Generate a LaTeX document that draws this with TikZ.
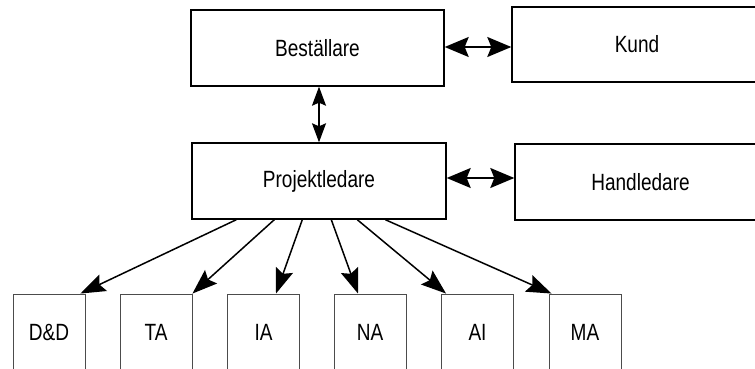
\documentclass[tikz,border=0pt]{standalone}
\usepackage{fontspec}
\setmainfont{Liberation Sans}[FakeStretch=0.81]
\usetikzlibrary{arrows.meta,calc}
\begin{document}
\begin{tikzpicture}[x=1pt,y=-1pt,
  topbox/.style={draw=black,line width=1.4pt,rectangle,inner sep=0pt,
     font=\fontsize{23.5}{26}\selectfont},
  subbox/.style={draw=black!70,line width=0.9pt,rectangle,inner sep=0pt,
     minimum width=72pt,minimum height=76pt,font=\fontsize{23.5}{26}\selectfont},
  biarrow/.style={line width=1.5pt,{Stealth[length=24pt,width=20pt,inset=4pt]}-{Stealth[length=24pt,width=20pt,inset=4pt]}},
  vbiarrow/.style={line width=1.5pt,{Stealth[length=19pt,width=14pt,inset=3pt]}-{Stealth[length=19pt,width=14pt,inset=3pt]}},
  darrow/.style={line width=1.5pt,-{Stealth[length=25pt,width=18pt,inset=4pt]}}]
\useasboundingbox (0,0) rectangle (755,369);
\node[topbox,minimum width=253pt,minimum height=76pt] (bes) at (317.5,48) {Beställare};
\node[topbox,minimum width=250pt,minimum height=75pt] (kund) at (637,44.5) {Kund};
\node[topbox,minimum width=254pt,minimum height=76pt] (proj) at (319,181) {Projektledare};
\node[topbox,minimum width=251pt,minimum height=76pt] (hand) at (640.5,182) {Handledare};
\node[subbox] (dd) at (49,332) {D\&D};
\node[subbox] (ta) at (156,332) {TA};
\node[subbox] (ia) at (263.5,332) {IA};
\node[subbox] (na) at (370,332) {NA};
\node[subbox] (ai) at (477.5,332) {AI};
\node[subbox] (ma) at (585,332) {MA};
\draw[biarrow] ([yshift=1pt]bes.east) -- ([yshift=1pt]bes.east -| kund.west);
\draw[vbiarrow] (proj.north |- bes.south) -- (proj.north);
\draw[biarrow] ([yshift=3pt]proj.east) -- ([yshift=3pt]proj.east -| hand.west);
\draw[darrow] ([xshift=45pt]proj.south west) -- ([xshift=-5pt]dd.north east);
\draw[darrow] ([xshift=83pt]proj.south west) -- (ta.north east);
\draw[darrow] ([xshift=111pt]proj.south west) -- ([xshift=12.5pt]ia.north);
\draw[darrow] ([xshift=140pt]proj.south west) -- ([xshift=-12pt]na.north);
\draw[darrow] ([xshift=166pt]proj.south west) -- ([xshift=5pt]ai.north west);
\draw[darrow] ([xshift=194pt]proj.south west) -- ([xshift=3pt]ma.north west);
\end{tikzpicture}
\end{document}
